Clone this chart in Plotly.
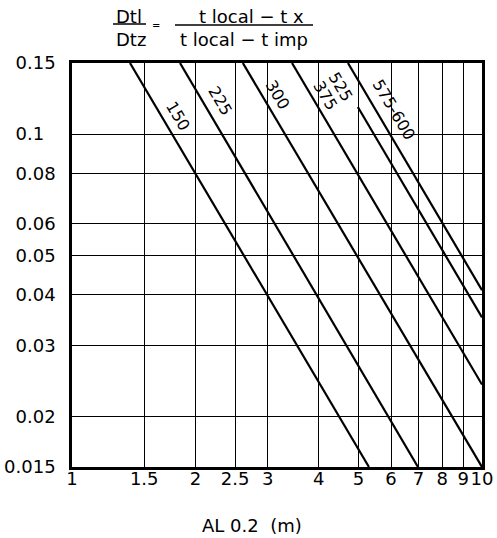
import numpy as np
import plotly.graph_objects as go

# ---- data ----
line_names = ["150", "225", "300", "375/525", "575", "600"]
x_start = [1.385, 1.834, 2.61, 3.44, 4.98, 4.71]
y_start = [0.15, 0.15, 0.15, 0.15, 0.1167, 0.15]
x_end = [5.30, 6.98, 10.0, 10.0, 10.0, 10.0]
y_end = [0.015, 0.015, 0.015, 0.0240, 0.0352, 0.0411]

x_ticks = [1, 1.5, 2, 2.5, 3, 4, 5, 6, 7, 8, 9, 10]
x_ticktext = ["1", "1.5", "2", "2.5", "3", "4", "5", "6", "7", "8", "9", "10"]
y_ticks = [0.015, 0.02, 0.03, 0.04, 0.05, 0.06, 0.08, 0.1, 0.15]
y_ticktext = ["0.015", "0.02", "0.03", "0.04", "0.05", "0.06", "0.08", "0.1\u00a0\u00a0", "0.15"]

# curve labels: text, paper x, paper y
label_text = ["150", "225", "300", "525", "375", "575-600"]
label_px = [0.2598, 0.361, 0.5024, 0.656, 0.6195, 0.784]
label_py = [0.8688, 0.907, 0.9196, 0.9394, 0.918, 0.8837]

FONT = "DejaVu Sans"

fig = go.Figure()
for name, xs, ys, xe, ye in zip(line_names, x_start, y_start, x_end, y_end):
    fig.add_trace(go.Scatter(x=[xs, xe], y=[ys, ye], mode="lines", name=name,
                             line=dict(color="black", width=2.2), showlegend=False,
                             hoverinfo="skip"))

angle = 59.4
for t, px, py in zip(label_text, label_px, label_py):
    fig.add_annotation(text=t, x=px, y=py, xref="paper", yref="paper",
                       showarrow=False, textangle=angle, xanchor="center", yanchor="middle",
                       font=dict(family=FONT, size=16, color="black"))

# title fraction
title_items = [
    ("Dtl", 0.139, 1.115, 18),
    ("Dtz", 0.144, 1.057, 18),
    ("=", 0.2037, 1.0925, 10),
    ("t local \u2212 t x", 0.4378, 1.1163, 18),
    ("t local \u2212 t imp", 0.4195, 1.057, 18),
]
for t, px, py, s in title_items:
    fig.add_annotation(text=t, x=px, y=py, xref="paper", yref="paper", showarrow=False,
                       xanchor="center", yanchor="middle",
                       font=dict(family=FONT, size=s, color="black"))
fig.add_shape(type="line", xref="paper", yref="paper", x0=0.1, x1=0.1805, y0=1.0965, y1=1.0965,
              line=dict(color="black", width=1.5))
fig.add_shape(type="line", xref="paper", yref="paper", x0=0.2512, x1=0.5878, y0=1.094, y1=1.094,
              line=dict(color="black", width=1.5))

fig.add_annotation(text="AL 0.2 \u00a0(m)", x=0.439, y=-0.1436, xref="paper", yref="paper",
                   showarrow=False, xanchor="center", yanchor="middle",
                   font=dict(family=FONT, size=18, color="black"))

fig.update_xaxes(type="log", range=[0, 1], tickvals=x_ticks, ticktext=x_ticktext,
                 tickangle=0, automargin=False, ticklabelstandoff=-6,
                 showgrid=True, gridcolor="black", gridwidth=1, showline=True, linewidth=2.5,
                 linecolor="black", mirror=True, ticks="", zeroline=False,
                 tickfont=dict(family=FONT, size=18, color="black"))
fig.update_yaxes(type="log", range=[np.log10(0.015), np.log10(0.15)], tickvals=y_ticks,
                 ticktext=y_ticktext, showgrid=True, gridcolor="black", gridwidth=1,
                 showline=True, linewidth=2.5, linecolor="black", mirror=True, ticks="",
                 zeroline=False, ticklabelstandoff=10, automargin=False,
                 tickfont=dict(family=FONT, size=18, color="black"))

fig.update_layout(width=497, height=538, margin=dict(l=72, r=15, t=63, b=71),
                  plot_bgcolor="white", paper_bgcolor="white",
                  font=dict(family=FONT, size=18, color="black"))

# remove the default 8px page margin so the figure sits at the window origin
fig.write_html("out.html", config={"displayModeBar": False},
               post_script="document.body.style.margin='0';")
